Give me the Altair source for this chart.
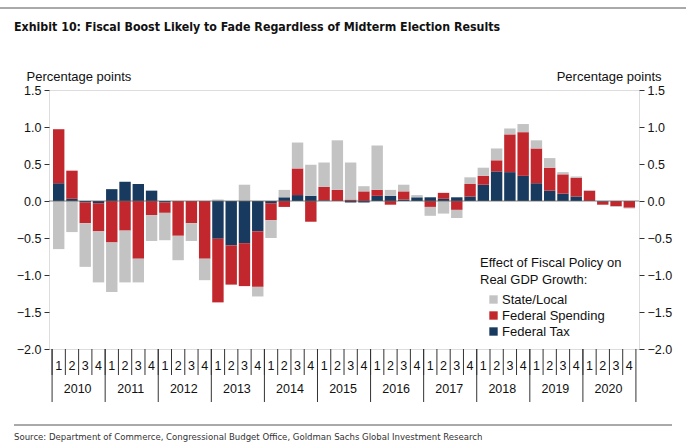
import altair as alt
import pandas as pd

# ---------------- data ----------------
years = [str(y) for y in range(2010, 2021)]
quarters = [f"{y} Q{q}" for y in years for q in range(1, 5)]

federal_tax = [
    0.24, 0.03, -0.02, -0.03,   # 2010
    0.16, 0.26, 0.23, 0.14,     # 2011
    -0.02, 0.00, 0.00, 0.00,    # 2012
    -0.51, -0.60, -0.57, -0.41, # 2013
    -0.03, 0.05, 0.08, 0.07,    # 2014
    0.01, 0.00, -0.02, -0.02,   # 2015
    0.07, 0.07, 0.02, 0.05,     # 2016
    0.05, 0.03, 0.05, 0.06,     # 2017
    0.22, 0.40, 0.39, 0.34,     # 2018
    0.24, 0.14, 0.10, 0.06,     # 2019
    0.00, -0.01, 0.00, 0.00,    # 2020
]
federal_spending = [
    0.73, 0.38, -0.28, -0.38,
    -0.56, -0.40, -0.78, -0.19,
    -0.14, -0.47, -0.30, -0.78,
    -0.86, -0.53, -0.58, -0.75,
    -0.23, -0.08, 0.36, -0.28,
    0.18, 0.15, 0.02, 0.13,
    0.08, -0.05, 0.11, 0.00,
    -0.08, 0.08, -0.12, 0.17,
    0.12, 0.15, 0.51, 0.59,
    0.47, 0.31, 0.26, 0.25,
    0.14, -0.04, -0.07, -0.09,
]
state_local = [
    -0.65, -0.42, -0.59, -0.69,
    -0.67, -0.70, -0.32, -0.35,
    -0.37, -0.33, -0.24, -0.29,
    0.02, 0.00, 0.22, -0.13,
    -0.24, 0.10, 0.35, 0.42,
    0.33, 0.67, 0.50, 0.07,
    0.60, 0.08, 0.09, 0.03,
    -0.12, -0.17, -0.11, 0.09,
    0.11, 0.16, 0.08, 0.11,
    0.11, 0.13, 0.03, 0.02,
    0.01, 0.00, -0.01, -0.01,
]

series_names = ["State/Local", "Federal Spending", "Federal Tax"]
series_colors = ["#c3c3c3", "#c1272d", "#173a5e"]
stack_order = {"Federal Tax": 0, "Federal Spending": 1, "State/Local": 2}

title_text = "Exhibit 10: Fiscal Boost Likely to Fade Regardless of Midterm Election Results"
source_text = "Source: Department of Commerce, Congressional Budget Office, Goldman Sachs Global Investment Research"
axis_title = "Percentage points"
legend_title = ["Effect of Fiscal Policy on", "Real GDP Growth:"]

rows = []
for i, q in enumerate(quarters):
    for name, vals in (("Federal Tax", federal_tax),
                       ("Federal Spending", federal_spending),
                       ("State/Local", state_local)):
        rows.append({"q": q, "series": name, "value": vals[i], "ord": stack_order[name]})
df = pd.DataFrame(rows)

q_df = pd.DataFrame({"q": quarters})
year_mid_df = pd.DataFrame({"q": [f"{y} Q2" for y in years], "year": years})
year_start_df = pd.DataFrame({"q": [f"{y} Q1" for y in years]})
year_end_df = pd.DataFrame({"q": [quarters[-1]]})

# ---------------- layout ----------------
W, H = 590, 259
FONT = "Liberation Sans, Arial, sans-serif"
NARROW = "Liberation Sans Narrow, DejaVu Sans Condensed, sans-serif"

x_scale = alt.Scale(domain=quarters, paddingInner=0.14, paddingOuter=0.3)
y_scale = alt.Scale(domain=[-2.0, 1.5], nice=False, zero=False)

x_axis = alt.Axis(title=None, labelExpr="substring(datum.value, 6)", labelAngle=0,
                  ticks=False, domain=False, labelPadding=10, labelFontSize=12.5,
                  labelFont=FONT, labelColor="#111", labelBaseline="top")


def xq(band=0.5):
    return alt.X("q:N", scale=x_scale, sort=quarters, bandPosition=band, axis=x_axis)


bars = alt.Chart(df).mark_bar().encode(
    x=alt.X("q:N", scale=x_scale, sort=quarters, axis=x_axis),
    y=alt.Y("value:Q", stack="zero", scale=y_scale,
            axis=alt.Axis(orient="left", values=[-2.0, -1.5, -1.0, -0.5, 0.0, 0.5, 1.0, 1.5],
                          format=".1f", title=axis_title, titleAngle=0, titleAlign="left",
                          titleBaseline="alphabetic", titleX=-23, titleY=-10,
                          titleFontWeight="normal", titleFontSize=13, titleFont=FONT,
                          titleColor="#111",
                          labelFontSize=12.5, labelFont=FONT, labelColor="#111",
                          tickSize=5, labelPadding=3, domain=False, grid=False,
                          tickColor="#333")),
    color=alt.Color("series:N", scale=alt.Scale(domain=series_names, range=series_colors),
                    legend=alt.Legend(title=legend_title, orient="none", legendX=431, legendY=167,
                                      titleFontSize=13, titleFontWeight="normal", titleFont=FONT,
                                      titleColor="#111", labelFontSize=13, labelFont=FONT,
                                      labelColor="#111", symbolType="square", symbolSize=70,
                                      symbolStrokeWidth=0, rowPadding=2, titlePadding=6,
                                      symbolOffset=7, labelOffset=2, titleLimit=300, padding=0,
                                      titleLineHeight=17)),
    order=alt.Order("ord:Q"),
)

zero_line = alt.Chart(pd.DataFrame({"v": [0.0]})).mark_rule(color="#666", strokeWidth=0.8).encode(
    y=alt.Y("v:Q", scale=y_scale,
            axis=alt.Axis(orient="right", values=[-2.0, -1.5, -1.0, -0.5, 0.0, 0.5, 1.0, 1.5],
                          format=".1f", title=axis_title, titleAngle=0, titleAlign="right",
                          titleBaseline="alphabetic", titleX=22, titleY=-10,
                          titleFontWeight="normal", titleFontSize=13, titleFont=FONT,
                          titleColor="#111",
                          labelFontSize=12.5, labelFont=FONT, labelColor="#111",
                          tickSize=5, labelPadding=3, domain=False, grid=False,
                          tickColor="#333")),
)

q_sep = alt.Chart(q_df).mark_rule(color="#333", strokeWidth=1, xOffset=-0.9).encode(
    x=xq(0), y=alt.value(H), y2=alt.value(H + 26),
)
year_sep = alt.Chart(year_start_df).mark_rule(color="#333", strokeWidth=1, xOffset=-0.9).encode(
    x=xq(0), y=alt.value(H), y2=alt.value(H + 53),
)
year_end = alt.Chart(year_end_df).mark_rule(color="#333", strokeWidth=1, xOffset=0.9).encode(
    x=xq(1), y=alt.value(H), y2=alt.value(H + 53),
)
year_text = alt.Chart(year_mid_df).mark_text(font=FONT, fontSize=12.5, color="#111",
                                             baseline="middle").encode(
    x=xq(1), y=alt.value(H + 40), text="year:N",
)

title = alt.Chart(pd.DataFrame({"t": [title_text]})).mark_text(
    align="left", baseline="alphabetic", font=NARROW, fontSize=12.3, fontWeight="bold", color="#111"
).encode(text="t:N", x=alt.value(-35), y=alt.value(-59))

source = alt.Chart(pd.DataFrame({"t": [source_text]})).mark_text(
    align="left", baseline="alphabetic", font=NARROW, fontSize=9.5, color="#333"
).encode(text="t:N", x=alt.value(-35), y=alt.value(350))

top_line = alt.Chart(pd.DataFrame({"t": [0]})).mark_rule(color="#555", strokeWidth=1).encode(
    x=alt.value(-49), x2=alt.value(637), y=alt.value(-82))
bottom_line = alt.Chart(pd.DataFrame({"t": [0]})).mark_rule(color="#555", strokeWidth=1).encode(
    x=alt.value(-35), x2=alt.value(623), y=alt.value(335))

chart = alt.layer(
    bars, zero_line, q_sep, year_sep, year_end, year_text, title, source, top_line, bottom_line
).resolve_scale(y="independent").properties(
    width=W, height=H,
    autosize=alt.AutoSizeParams(type="none"),
    padding={"left": 49, "top": 90, "right": 47, "bottom": 99},
).configure_view(stroke="#333", strokeWidth=1).configure(background="white")

chart.save("out.html", embed_options={"renderer": "svg", "actions": False})
